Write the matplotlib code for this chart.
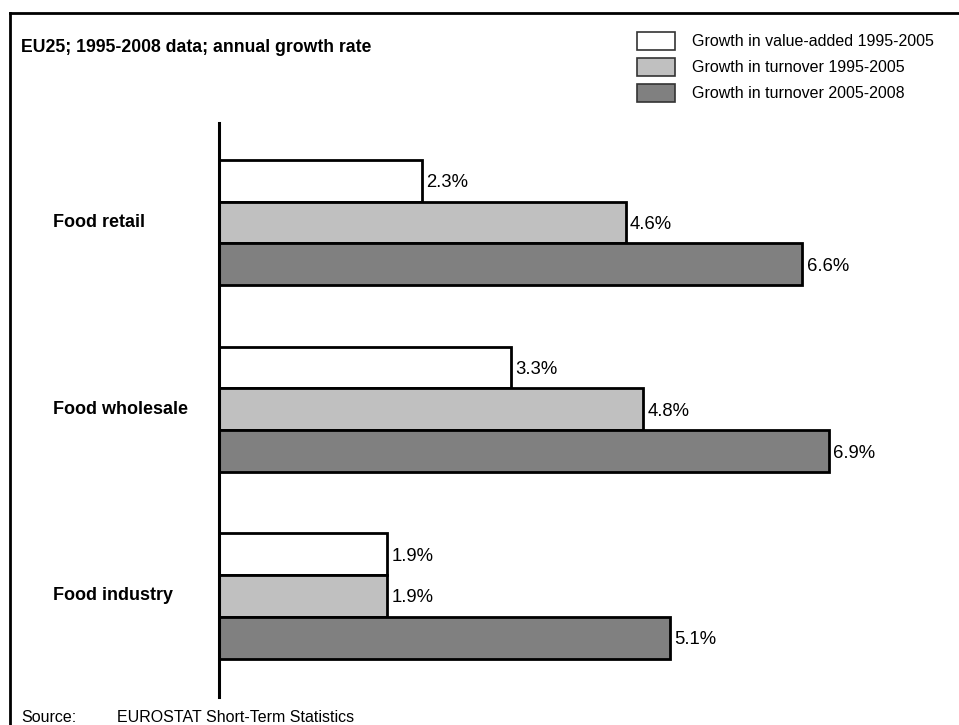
import matplotlib.pyplot as plt
from matplotlib.lines import Line2D
from matplotlib.transforms import blended_transform_factory
import numpy as np

plt.rcParams["font.family"] = ["Liberation Sans", "DejaVu Sans"]

categories = ["Food retail", "Food wholesale", "Food industry"]
series_names = ["Growth in value-added 1995-2005",
                "Growth in turnover 1995-2005",
                "Growth in turnover 2005-2008"]
value_added_95_05 = [2.3, 3.3, 1.9]
turnover_95_05 = [4.6, 4.8, 1.9]
turnover_05_08 = [6.6, 6.9, 5.1]
colors = ["#ffffff", "#c0c0c0", "#808080"]

W, H = 959, 725
fig = plt.figure(figsize=(W / 100, H / 100), dpi=100)

# axes placed in pixel terms
ax = fig.add_axes([219 / W, 1 - 697 / H, 681 / W, 574 / H])
ax.set_xlim(0, 681 / 88.4)
ax.set_ylim(2.541, -0.533)

y = np.arange(len(categories))
h = 0.224
series = [value_added_95_05, turnover_95_05, turnover_05_08]
for i, (vals, c, name) in enumerate(zip(series, colors, series_names)):
    bars = ax.barh(y + (i - 1) * h, vals, height=h, color=c,
                   edgecolor="black", linewidth=2.0, label=name)
    labels = ax.bar_label(bars, labels=[f"{v:.1f}%" for v in vals],
                          padding=3, fontsize=13.3)
    for t in labels:
        t.set_verticalalignment("center_baseline")

for s in ["top", "right", "bottom"]:
    ax.spines[s].set_visible(False)
ax.spines["left"].set_linewidth(2.2)
ax.set_xticks([])
ax.set_yticks([])

# category names at fixed figure x
tr = blended_transform_factory(fig.transFigure, ax.transData)
for yi, name in zip(y, categories):
    ax.text(53 / W, yi, name, transform=tr, fontsize=13, fontweight="bold",
            ha="left", va="center")

fig.text(21 / W, 1 - 47 / H, "EU25; 1995-2008 data; annual growth rate",
         fontsize=12.7, fontweight="bold", ha="left", va="center")

fig.text(21 / W, 1 - 718 / H, "Source:", fontsize=11.5, ha="left", va="center")
fig.text(117 / W, 1 - 718 / H, "EUROSTAT Short-Term Statistics",
         fontsize=11.5, ha="left", va="center")

leg = fig.legend(loc="upper left", bbox_to_anchor=(637 / W, 1 - 32 / H),
                 frameon=False, fontsize=11.5, handlelength=2.4,
                 handleheight=1.35, handletextpad=1.05, labelspacing=0.5,
                 borderpad=0, borderaxespad=0)
for p in leg.get_patches():
    p.set_linewidth(1.2)
    p.set_edgecolor("#333333")

# outer frame (top and left edges)
fig.add_artist(Line2D([10 / W, 1], [1 - 13 / H, 1 - 13 / H],
                      transform=fig.transFigure, color="black", lw=2))
fig.add_artist(Line2D([10 / W, 10 / W], [1 - 13 / H, 0],
                      transform=fig.transFigure, color="black", lw=2))

fig.savefig("out.png", dpi=100)
